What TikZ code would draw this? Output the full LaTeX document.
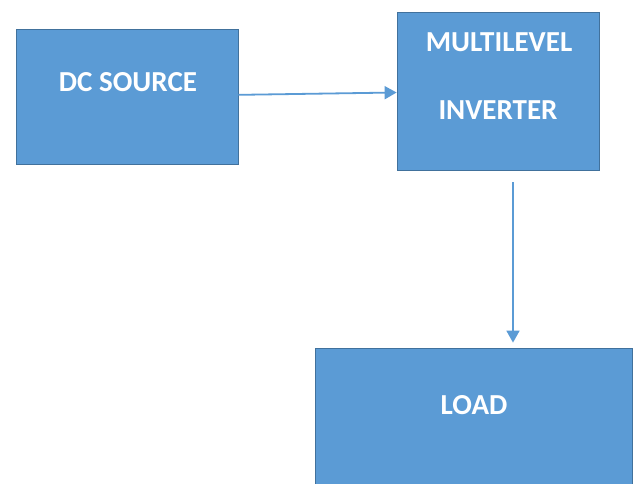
\documentclass[tikz,border=0pt]{standalone}
\usepackage{fontspec}
\setmainfont{Carlito}
\usetikzlibrary{arrows.meta}
\definecolor{boxblue}{HTML}{5B9BD5}
\definecolor{boxedge}{HTML}{41719C}
\tikzset{
  block/.style={draw=boxedge,line width=0.8pt,fill=boxblue,inner sep=0pt},
  blocktext/.style={text=white,font=\fontsize{29}{32}\selectfont\bfseries},
  flow/.style={draw=boxblue,line width=1.8pt,-{Triangle[width=13pt,length=12pt]}}
}
\begin{document}
\begin{tikzpicture}[x=1pt,y=-1pt]
  \clip (0,0) rectangle (633,484);
  \fill[white] (0,0) rectangle (633,484);
  \node[block,minimum width=222pt,minimum height=135pt] (dc) at (127,96.5) {};
  \node[block,minimum width=202pt,minimum height=158pt] (inv) at (498,91) {};
  \node[block,minimum width=317pt,minimum height=160pt] (load) at (473.5,428) {};
  \node[blocktext] (dctext) at (128,82) {DC SOURCE};
  \node[blocktext] (invtop) at (499,42) {MULTILEVEL};
  \node[blocktext] (invbottom) at (498,110) {INVERTER};
  \node[blocktext] (loadtext) at (474,405) {LOAD};
  \draw[flow] (dc) -- (inv);
  \coordinate (tap) at ([xshift=15pt,yshift=-12pt]inv.south);
  \draw[flow,shorten >=5pt] (tap) -- (tap |- load.north);
\end{tikzpicture}
\end{document}
